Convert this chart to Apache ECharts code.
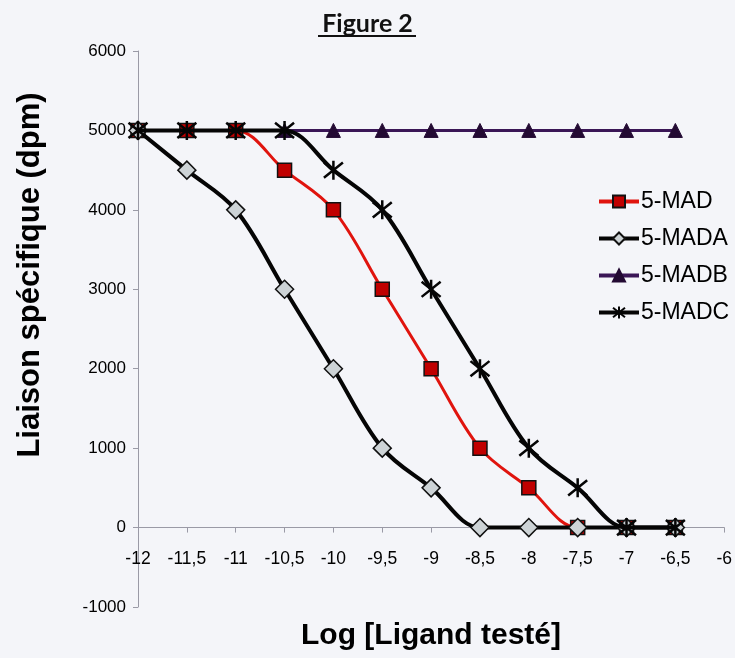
<!DOCTYPE html>
<html>
<head>
<meta charset="utf-8">
<script src="https://cdn.jsdelivr.net/npm/echarts@6/dist/echarts.min.js"></script>
<style>
  html, body { margin: 0; padding: 0; background: #f4f5f9; }
  #chart { width: 735px; height: 658px; }
</style>
</head>
<body>
<div id="chart"></div>
<script>
// log de la concentration du ligand testé
const logLigand = [-12, -11.5, -11, -10.5, -10, -9.5, -9, -8.5, -8, -7.5, -7, -6.5]

// liaison spécifique (dpm) par ligand
const mad  = [5000, 5000, 5000, 4500, 4000, 3000, 2000, 1000, 500, 0, 0, 0]
const mada = [5000, 4500, 4000, 3000, 2000, 1000, 500, 0, 0, 0, 0, 0]
const madb = [5000, 5000, 5000, 5000, 5000, 5000, 5000, 5000, 5000, 5000, 5000, 5000]
const madc = [5000, 5000, 5000, 5000, 4500, 4000, 3000, 2000, 1000, 500, 0, 0]

const seriesNames = ['5-MAD', '5-MADA', '5-MADB', '5-MADC']

const pairs = vals => logLigand.map((x, i) => [x, vals[i]])
const star = 'path://M5,0L5,10M1,1L9,9M9,1L1,9'

// grille : 556 px pour 7000 dpm, l'axe des x passe à 0
const gridH = 556
const zeroOffset = -gridH / 7

const chart = echarts.init(document.getElementById('chart'))
chart.setOption({
  backgroundColor: '#f4f5f9',
  textStyle: { fontFamily: 'Liberation Sans' },
  title: {
    text: 'Figure 2',
    left: 'center',
    top: 6,
    textStyle: { fontFamily: 'Lato', fontWeight: 'bold', fontSize: 25, color: '#111' }
  },
  graphic: [
    // soulignement du titre
    { type: 'rect', shape: { x: 318, y: 35, width: 98, height: 2 }, style: { fill: '#111' } },
    {
      type: 'text',
      x: 30, y: 275,
      rotation: Math.PI / 2,
      style: {
        text: 'Liaison spécifique (dpm)',
        font: 'bold 31px "Liberation Sans"',
        fill: '#000',
        align: 'center',
        verticalAlign: 'middle'
      }
    },
    {
      type: 'text',
      x: 431, y: 636,
      style: {
        text: 'Log [Ligand testé]',
        font: 'bold 30px "Liberation Sans"',
        fill: '#000',
        align: 'center',
        verticalAlign: 'middle'
      }
    }
  ],
  legend: {
    data: seriesNames,
    orient: 'vertical',
    left: 597,
    top: 190,
    padding: 0,
    itemWidth: 40,
    itemHeight: 15,
    itemGap: 14,
    lineStyle: { width: 4 },
    textStyle: { fontSize: 23, color: '#000', padding: [0, 0, 0, -3] }
  },
  grid: { left: 138, right: 8, top: 51, bottom: 51, containLabel: false },
  xAxis: {
    type: 'value',
    min: -12, max: -6, interval: 0.5,
    offset: zeroOffset,
    axisLine: { onZero: false, lineStyle: { color: '#9a9aa6', width: 1 } },
    axisTick: { show: true, length: 5, lineStyle: { color: '#9a9aa6' } },
    splitLine: { show: false },
    axisLabel: {
      margin: 23,
      fontSize: 17.5,
      color: '#000',
      formatter: v => String(v).replace('.', ',')
    }
  },
  yAxis: {
    type: 'value',
    min: -1000, max: 6000, interval: 1000,
    axisLine: { show: true, lineStyle: { color: '#9a9aa6', width: 1 } },
    axisTick: { show: true, length: 5, lineStyle: { color: '#9a9aa6' } },
    splitLine: { show: false },
    axisLabel: { margin: 12, fontSize: 17, color: '#000', formatter: v => String(v) }
  },
  series: [
    {
      name: '5-MAD', type: 'line', data: pairs(mad), smooth: 0.35,
      symbol: 'rect', symbolSize: 14,
      lineStyle: { color: '#e0140e', width: 3 },
      itemStyle: { color: '#c00000', borderColor: '#111', borderWidth: 1.5 },
      z: 2
    },
    {
      name: '5-MADA', type: 'line', data: pairs(mada), smooth: 0.35,
      symbol: 'diamond', symbolSize: 18,
      lineStyle: { color: '#050505', width: 4 },
      itemStyle: { color: '#cdd3d6', borderColor: '#111', borderWidth: 1.5 },
      z: 3
    },
    {
      name: '5-MADB', type: 'line', data: pairs(madb), smooth: 0.35,
      symbol: 'triangle', symbolSize: 14,
      lineStyle: { color: '#3a1656', width: 3 },
      itemStyle: { color: '#230a33', borderColor: '#230a33', borderWidth: 1 },
      z: 1
    },
    {
      name: '5-MADC', type: 'line', data: pairs(madc), smooth: 0.35,
      symbol: star, symbolSize: 19,
      lineStyle: { color: '#050505', width: 4 },
      itemStyle: { color: '#050505', borderColor: '#050505', borderWidth: 2.5 },
      z: 4
    }
  ]
})
</script>
</body>
</html>
